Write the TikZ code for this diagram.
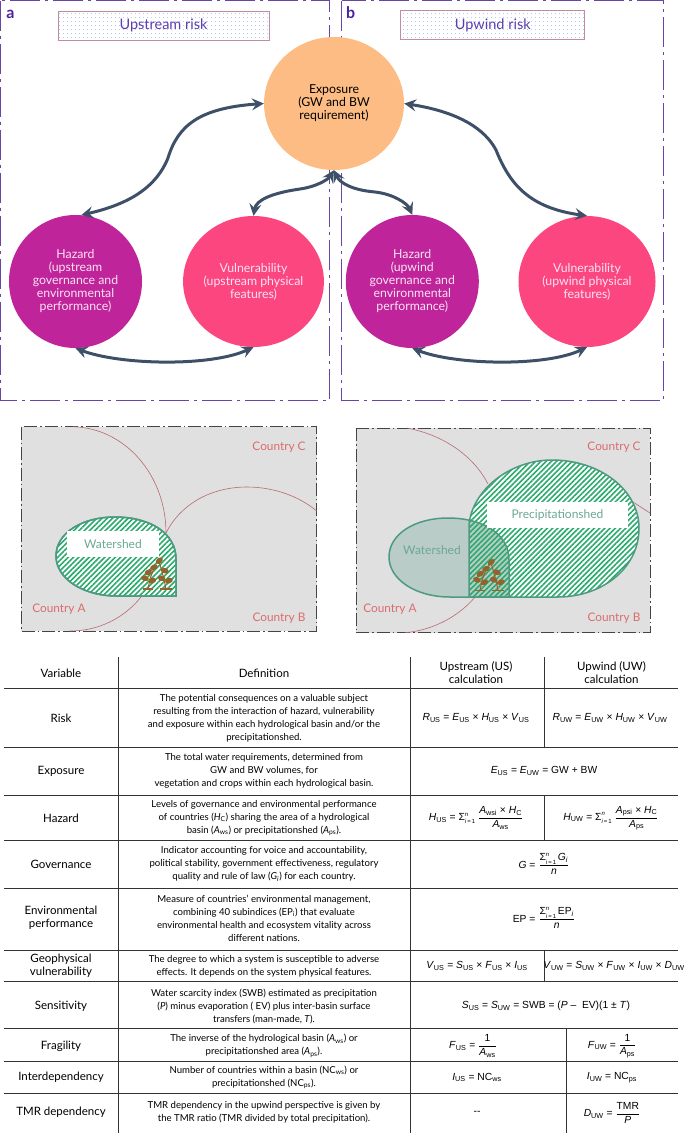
\documentclass[tikz,border=0pt]{standalone}
\usepackage{amsmath}
\usepackage{fontspec}
\setmainfont{Lato}
\newfontfamily\eqnfont{Liberation Sans}
\usepackage{xcolor}
\usetikzlibrary{shapes.geometric,arrows.meta,patterns.meta}

\definecolor{framepurple}{HTML}{6A45A8}
\definecolor{tagpurple}{HTML}{4B21A0}
\definecolor{titlepurple}{HTML}{5C3CB0}
\definecolor{titleedge}{HTML}{C08C9E}
\definecolor{dotblue}{HTML}{7FA6EE}
\definecolor{linkblue}{HTML}{3E5068}
\definecolor{exposurefill}{HTML}{FDBC83}
\definecolor{hazardfill}{HTML}{BF249B}
\definecolor{vulnfill}{HTML}{FB4680}
\definecolor{lighttext}{HTML}{FBE3F3}
\definecolor{mapgray}{HTML}{E0E0E0}
\definecolor{mapedge}{HTML}{444444}
\definecolor{borderred}{HTML}{B8696F}
\definecolor{countryred}{HTML}{DB6C6C}
\definecolor{shedgreen}{HTML}{4D9A82}
\definecolor{shedtext}{HTML}{6CA894}
\definecolor{shedfill}{HTML}{B9CCC8}
\definecolor{hatchgreen}{HTML}{2BAA6C}
\definecolor{plantbrown}{HTML}{94622B}
\definecolor{rulegray}{HTML}{333333}

\newcommand{\symb}[2]{\textit{#1}\textsubscript{#2}}
\newcommand{\eqfrac}[2]{$\dfrac{\text{#1}}{\text{#2}}$}
\newcommand{\sumi}{Σ\rlap{\raisebox{4.6pt}{\fontsize{6}{6}\selectfont\textit{n}}}\raisebox{-3.2pt}{\fontsize{6}{6}\selectfont\textit{i}\,=\,1}}
\newcommand{\watershedpath}{(176,596) -- (117,596) .. controls (82,596) and (56,578) .. (56,556) .. controls (56,533) and (82,517) .. (115,517) .. controls (150,517) and (176,533) .. (176,559) -- cycle}
\newcommand{\precippath}{(469,597) -- (469,525) .. controls (472,490) and (510,460) .. (552,460) .. controls (600,460) and (639,490) .. (639,528) .. controls (639,570) and (600,597) .. (558,597) -- cycle}

\tikzset{
    pics/plant/.style={code={
        \draw [plantbrown, line width=1.3] (0,0) -- (10,0) (17,0) -- (29,0);
        \draw [plantbrown, line width=1] (5,0) -- (7,-10) -- (11,-21) (23,0) -- (21,-10) -- (16,-28);
        \foreach \lx/\ly/\lr in {2/-10.7/-20, 9.3/-8.3/20, 18.7/-10.7/-20, 26/-8.3/20, 11/-21.7/20, 22/-18.3/-20, 5.3/-16.7/30, 16.3/-28.3/40} {
            \fill [plantbrown] (\lx,\ly) ellipse [x radius=4, y radius=2.7, rotate=\lr];
        }
    }}
}

\begin{document}
\begin{tikzpicture}[
    x=1pt, y=-1pt,
    panelframe/.style={draw=framepurple, line width=1, dash pattern=on 30pt off 5pt on 3pt off 5pt},
    titlebox/.style={draw=titleedge, line width=0.8, pattern={Dots[radius=0.5pt,distance=4pt]}, pattern color=dotblue, text=titlepurple, font=\fontsize{14.5}{16}\selectfont, minimum height=29, inner sep=0},
    paneltag/.style={text=tagpurple, font=\fontsize{16}{16}\selectfont\bfseries, inner sep=0},
    blob/.style={ellipse, inner sep=0, align=center, font=\fontsize{12.3}{13}\selectfont},
    exposure/.style={blob, fill=exposurefill, minimum width=140, minimum height=133},
    hazard/.style={blob, fill=hazardfill, text=lighttext, minimum width=133, minimum height=133},
    vuln/.style={blob, fill=vulnfill, text=lighttext, minimum width=137, minimum height=131},
    link/.style={draw=linkblue, line width=3, {Stealth[length=12pt,width=12pt,inset=4.5pt]}-{Stealth[length=12pt,width=12pt,inset=4.5pt]}},
    mapframe/.style={draw=mapedge, fill=mapgray, line width=0.9, dash pattern=on 13pt off 3pt on 1.5pt off 3pt},
    border/.style={draw=borderred, line width=0.6},
    shed/.style={draw=shedgreen, line width=1.5},
    hatch/.style={pattern={Lines[angle=45,distance=3.7pt,line width=1.6pt]}, pattern color=hatchgreen},
    country/.style={text=countryred, font=\fontsize{11.8}{13}\selectfont, inner sep=0},
    shedlabel/.style={text=shedtext, font=\fontsize{12}{14}\selectfont, inner sep=0},
    whitetag/.style={fill=white, text=shedtext, font=\fontsize{12}{14}\selectfont, inner sep=0},
    rowline/.style={draw=rulegray, line width=0.8},
    cell/.style={align=center, inner sep=0, font=\fontsize{9.6}{13}\selectfont},
    head/.style={align=center, inner sep=0, font=\fontsize{11.5}{13}\selectfont},
    formula/.style={inner sep=0, font=\eqnfont\fontsize{10.3}{12}\selectfont}
]
    \useasboundingbox (0,0) rectangle (685,1133);

    % Panel frames
    \draw [panelframe] (0.5,0.5) rectangle (329.7,400.7);
    \draw [panelframe] (341.7,0.5) rectangle (663,400.7);
    \node [paneltag] (tagA) at (10.5,14) {a};
    \node [paneltag] (tagB) at (350.7,13) {b};
    \node [titlebox, minimum width=211] (titleA) at (163.5,25.5) {Upstream risk};
    \node [titlebox, minimum width=184] (titleB) at (492.8,25) {Upwind risk};

    % Risk circles
    \node [exposure] (expo) at (334,103.5) {Exposure\\(GW and BW\\requirement)};
    \node [hazard] (hazardA) at (75.5,281.5) {Hazard\\(upstream\\governance and\\environmental\\performance)};
    \node [vuln] (vulnA) at (253.5,281.5) {Vulnerability\\(upstream physical\\features)};
    \node [hazard] (hazardB) at (412.3,281.5) {Hazard\\(upwind\\governance and\\environmental\\performance)};
    \node [vuln] (vulnB) at (587,281.5) {Vulnerability\\(upwind physical\\features)};

    \draw [link] (hazardA.85) .. controls (125,205) and (155,190) .. (168,158) .. controls (178,125) and (200,108) .. (expo.west);
    \draw [link] (vulnA.north) .. controls (256,200) and (272,193) .. (300,189) .. controls (315,187) and (328,180) .. (expo.south);
    \draw [link] (expo.south) .. controls (340,183) and (352,190) .. (375,192) .. controls (393,194) and (407,203) .. (hazardB.north);
    \draw [link] (expo.east) .. controls (440,109) and (480,120) .. (496,150) .. controls (510,185) and (530,208) .. (vulnB.north);
    \draw [link] (hazardA.south) .. controls (120,365) and (210,367) .. (vulnA.south);
    \draw [link] (hazardB.south) .. controls (455,365) and (545,367) .. (vulnB.south);

    % Map a
    \draw [mapframe] (21,426.7) rectangle (316.7,631);
    \draw [border] (73,426.7) .. controls (125,428) and (166,475) .. (166,533);
    \draw [border] (166,533) .. controls (180,505) and (210,487) .. (247,487) .. controls (275,487) and (300,497) .. (316.7,511);
    \draw [border] (141,597) .. controls (125,617) and (100,631) .. (70,631);
    \draw [shed, fill=white] \watershedpath;
    \fill [hatch] \watershedpath;
    \draw [shed] \watershedpath;
    \node [whitetag, minimum width=92, minimum height=25.7] (shedA) at (113,543.8) {Watershed};
    \pic at (143,589) {plant};
    \node [country] (countryCa) at (279,447) {Country C};
    \node [country] (countryAa) at (59,609) {Country A};
    \node [country] (countryBa) at (279,618) {Country B};

    % Map b
    \draw [mapframe] (356,428) rectangle (650,632.7);
    \draw [border] (407,428) .. controls (443,435) and (473,455) .. (488,484);
    \draw [border] (633,502) -- (650,513);
    \draw [border] (475,597) .. controls (460,615) and (435,630) .. (405,632.7);
    \fill [white] \precippath;
    \fill [shedfill, shift={(333,1)}] \watershedpath;
    \fill [hatch] \precippath;
    \draw [shed] \precippath;
    \draw [shed, shift={(333,1)}] \watershedpath;
    \node [whitetag, minimum width=141, minimum height=25.7] (precip) at (557.5,515) {Precipitationshed};
    \node [shedlabel] (shedB) at (432,550) {Watershed};
    \pic at (475,590.5) {plant};
    \node [country] (countryCb) at (614,447) {Country C};
    \node [country] (countryAb) at (390,609) {Country A};
    \node [country] (countryBb) at (614,618) {Country B};

    % Table rules
    \foreach \ypos in {688, 747.7, 795, 840.7, 888, 950, 981.7, 1028, 1061.7, 1093} {
        \draw [rowline] (4,\ypos) -- (678,\ypos);
    }
    \draw [rowline] (118.8,657) -- (118.8,1133);
    \draw [rowline] (410.7,657) -- (410.7,1133);
    \draw [rowline] (544,657) -- (544,747.7);
    \draw [rowline] (544,795) -- (544,840.7);
    \draw [rowline] (544,950) -- (544,981.7);
    \draw [rowline] (566,1028) -- (566,1133);

    % Header
    \node [head] (headVar) at (61,673) {Variable};
    \node [head] (headDef) at (264,673) {Definition};
    \node [head] (headUS) at (476,673) {Upstream (US)\\calculation};
    \node [head] (headUW) at (611.5,673) {Upwind (UW)\\calculation};

    % Variable names
    \foreach \ypos/\label in {718/Risk, 771/Exposure, 818/Hazard, 864/Governance, 918/{Environmental\\performance}, 966/{Geophysical\\vulnerability}, 1006/Sensitivity, 1046/Fragility, 1077.5/Interdependency, 1112.5/TMR dependency} {
        \node [head] (var\ypos) at (61,\ypos) {\label};
    }

    % Definitions
    \node [cell] (defRisk) at (264,718) {The potential consequences on a valuable subject\\resulting from the interaction of hazard, vulnerability\\and exposure within each hydrological basin and/or the\\precipitationshed.};
    \node [cell] (defExpo) at (264,771) {The total water requirements, determined from\\GW and BW volumes, for\\vegetation and crops within each hydrological basin.};
    \node [cell] (defHaz) at (264,818) {Levels of governance and environmental performance\\of countries (\symb{H}{C}) sharing the area of a hydrological\\basin (\symb{A}{ws}) or precipitationshed (\symb{A}{ps}).};
    \node [cell] (defGov) at (264,864) {Indicator accounting for voice and accountability,\\political stability, government effectiveness, regulatory\\quality and rule of law (\symb{G}{\textit{i}}) for each country.};
    \node [cell] (defEnv) at (264,918) {Measure of countries' environmental management,\\combining 40 subindices (EP\textsubscript{\textit{i}}) that evaluate\\environmental health and ecosystem vitality across\\different nations.};
    \node [cell] (defGeo) at (264,966) {The degree to which a system is susceptible to adverse\\effects. It depends on the system physical features.};
    \node [cell] (defSens) at (264,1006) {Water scarcity index (SWB) estimated as precipitation\\(\textit{P}) minus evaporation ( EV) plus inter-basin surface\\transfers (man-made, \textit{T}).};
    \node [cell] (defFrag) at (264,1046) {The inverse of the hydrological basin (\symb{A}{ws}) or\\precipitationshed area (\symb{A}{ps}).};
    \node [cell] (defInter) at (264,1077.5) {Number of countries within a basin (NC\textsubscript{ws}) or\\precipitationshed (NC\textsubscript{ps}).};
    \node [cell] (defTmr) at (264,1112.5) {TMR dependency in the upwind perspective is given by\\the TMR ratio (TMR divided by total precipitation).};

    % Calculations
    \node [formula] (riskUS) at (476,718) {\symb{R}{US} = \symb{E}{US} × \symb{H}{US} × \symb{V}{US}};
    \node [formula] (riskUW) at (610,718) {\symb{R}{UW} = \symb{E}{UW} × \symb{H}{UW} × \symb{V}{UW}};
    \node [formula] (expoEq) at (544,771) {\symb{E}{US} = \symb{E}{UW} = GW + BW};
    \node [formula] (hazUS) at (476,818) {\symb{H}{US} = \sumi\ \eqfrac{\symb{A}{wsi} × \symb{H}{C}}{\symb{A}{ws}}};
    \node [formula] (hazUW) at (611,818) {\symb{H}{UW} = \sumi\ \eqfrac{\symb{A}{psi} × \symb{H}{C}}{\symb{A}{ps}}};
    \node [formula] (govEq) at (544,864) {\textit{G} = \eqfrac{\sumi\,\symb{G}{\textit{i}}}{\textit{n}}};
    \node [formula] (envEq) at (544,918) {EP = \eqfrac{\sumi\,EP\textsubscript{\textit{i}}}{\textit{n}}};
    \node [formula] (geoUS) at (477,966) {\symb{V}{US} = \symb{S}{US} × \symb{F}{US} × \symb{I}{US}};
    \node [formula] (geoUW) at (614,966) {\symb{V}{UW} = \symb{S}{UW} × \symb{F}{UW} × \symb{I}{UW} × \symb{D}{UW}};
    \node [formula] (sensEq) at (546,1006) {\symb{S}{US} = \symb{S}{UW} = SWB = (\textit{P} –~ EV)(1 ± \textit{T})};
    \node [formula] (fragUS) at (473,1046) {\symb{F}{US} = \eqfrac{1}{\symb{A}{ws}}};
    \node [formula] (fragUW) at (612,1046) {\symb{F}{UW} = \eqfrac{1}{\symb{A}{ps}}};
    \node [formula] (interUS) at (477,1077.5) {\symb{I}{US} = NC\textsubscript{ws}};
    \node [formula] (interUW) at (612,1077.5) {\symb{I}{UW} = NC\textsubscript{ps}};
    \node [formula] (tmrUS) at (477,1113) {--};
    \node [formula] (tmrUW) at (612,1113) {\symb{D}{UW} = \eqfrac{TMR}{\textit{P}}};
\end{tikzpicture}
\end{document}
